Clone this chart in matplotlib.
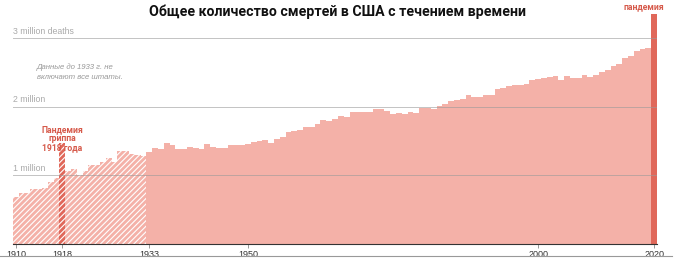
import numpy as np
import matplotlib
matplotlib.use("Agg")
import matplotlib.pyplot as plt

plt.rcParams['font.family'] = ['Roboto', 'DejaVu Sans']
plt.rcParams['hatch.linewidth'] = 0.8
plt.rcParams['hatch.color'] = 'white'

# deaths in millions, 1910-2020
years = list(range(1910, 2021))
deaths = [
    0.69, 0.74, 0.74, 0.80, 0.80, 0.81, 0.91, 0.97, 1.47, 1.06,   # 1910-1919
    1.10, 1.00, 1.07, 1.16, 1.15, 1.19, 1.25, 1.20, 1.35, 1.35,   # 1920-1929
    1.31, 1.30, 1.28, 1.342, 1.397, 1.393, 1.479, 1.450, 1.381, 1.388,  # 1930-1939
    1.417, 1.398, 1.385, 1.460, 1.411, 1.402, 1.396, 1.445, 1.444, 1.444,  # 1940-1949
    1.452, 1.482, 1.497, 1.518, 1.481, 1.529, 1.564, 1.633, 1.648, 1.657,  # 1950-1959
    1.712, 1.702, 1.757, 1.814, 1.798, 1.828, 1.863, 1.851, 1.930, 1.922,  # 1960-1969
    1.921, 1.928, 1.964, 1.973, 1.934, 1.893, 1.909, 1.900, 1.928, 1.914,  # 1970-1979
    1.990, 1.978, 1.975, 2.019, 2.039, 2.086, 2.105, 2.123, 2.168, 2.150,  # 1980-1989
    2.148, 2.170, 2.176, 2.269, 2.279, 2.312, 2.315, 2.314, 2.337, 2.391,  # 1990-1999
    2.403, 2.416, 2.443, 2.448, 2.398, 2.448, 2.426, 2.424, 2.472, 2.437,  # 2000-2009
    2.468, 2.515, 2.543, 2.597, 2.626, 2.713, 2.744, 2.814, 2.839, 2.855,  # 2010-2019
    3.36,                                                           # 2020
]
pandemic_years = [1918, 2020]
partial_until = 1933
tick_years = [1910, 1918, 1933, 1950, 2000, 2020]
grid_vals = [1, 2, 3]
grid_labels = ['1 million', '2 million', '3 million deaths']

light = '#f4b1a8'
dark = '#e0685a'
red_text = '#d65a4b'

fig = plt.figure(figsize=(6.75, 2.7), dpi=100)
ax = fig.add_axes([13 / 675, 26 / 270, 644 / 675, 233 / 270])

yrs = np.array(years)
vals = np.array(deaths)
colors = np.array([dark if y in pandemic_years else light for y in years])
partial = yrs < partial_until

ax.bar(yrs[~partial], vals[~partial], width=1.0, color=colors[~partial],
       linewidth=0, zorder=2)
ax.bar(yrs[partial], vals[partial], width=1.0, color=colors[partial],
       linewidth=0, hatch='//////', zorder=2)

for v, lab in zip(grid_vals, grid_labels):
    ax.axhline(v, color='#9a9a9a', lw=0.7, alpha=0.6, zorder=3)
    ax.text(1909.5, v + 0.04, lab, fontsize=6.3, color='#aaaaaa', va='bottom', ha='left',
            family=['Liberation Sans', 'DejaVu Sans'])

ax.set_xlim(1909.5, 2020.5)
ax.set_ylim(0, 3.4)
for s in ['top', 'right', 'left']:
    ax.spines[s].set_visible(False)
ax.spines['bottom'].set_color('#333333')
ax.spines['bottom'].set_linewidth(0.8)
ax.set_yticks([])
ax.set_xticks(tick_years)
ax.set_xticklabels([str(t) for t in tick_years], fontsize=6.5, color='#333333',
                   family=['Liberation Sans', 'DejaVu Sans'])
ax.tick_params(axis='x', length=3, width=0.6, color='#888888', pad=1)

ax.text(1913.6, 2.64, 'Данные до 1933 г. не\nвключают все штаты.', fontsize=5.6,
        style='italic', color='#999999', va='top', ha='left', linespacing=1.6,
        family=['Liberation Sans', 'DejaVu Sans'])

ax.text(1918, 1.34, 'Пандемия\nгриппа\n1918 года', fontsize=6.2, fontweight='bold',
        color=red_text, ha='center', va='bottom', linespacing=1.0, zorder=4)
ax.text(2018.2, 3.40, '2020 г.\nпандемия', fontsize=6.2, fontweight='bold',
        color=red_text, ha='center', va='bottom', linespacing=1.0, clip_on=False)

fig.text(0.500, 0.955, 'Общее количество смертей в США с течением времени',
         fontsize=10.2, fontweight='bold', ha='center', va='center', color='#111111')

fig.add_artist(plt.Line2D([0, 0.995], [14 / 270, 14 / 270], color='#999999', lw=0.8))

fig.savefig('out.png', dpi=100)
